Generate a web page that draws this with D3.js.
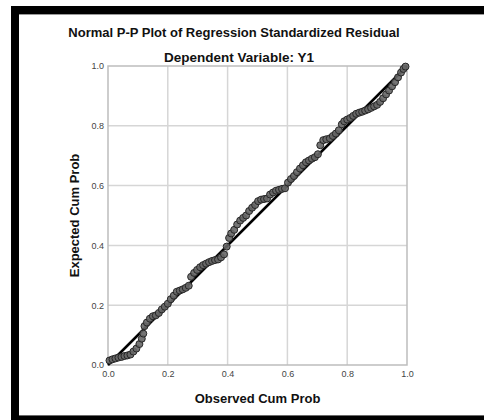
<!DOCTYPE html>
<html>
<head>
<meta charset="utf-8">
<script src="https://cdn.jsdelivr.net/npm/d3@7"></script>
<style>
  html, body { margin: 0; padding: 0; background: #fff; }
  svg { display: block; }
  text { font-family: "Liberation Sans", Arial, sans-serif; }
</style>
</head>
<body>
<script>
// ---- data ----
const titleText = "Normal P-P Plot of Regression Standardized Residual";
const subtitleText = "Dependent Variable: Y1";
const xLabel = "Observed Cum Prob";
const yLabel = "Expected Cum Prob";
const tickValues = [0, 0.2, 0.4, 0.6, 0.8, 1.0];
const tickLabels = ["0.0", "0.2", "0.4", "0.6", "0.8", "1.0"];

const observed = [
  0.005, 0.015, 0.025, 0.035, 0.045, 0.055, 0.065, 0.075, 0.085, 0.095,
  0.105, 0.113, 0.118, 0.122, 0.130, 0.140, 0.150, 0.160, 0.170, 0.180,
  0.190, 0.200, 0.210, 0.220, 0.230, 0.240, 0.250, 0.260, 0.270, 0.278,
  0.288, 0.298, 0.308, 0.318, 0.328, 0.338, 0.348, 0.358, 0.368, 0.378,
  0.388, 0.397, 0.405, 0.412, 0.422, 0.432, 0.442, 0.452, 0.462, 0.472,
  0.482, 0.492, 0.502, 0.512, 0.522, 0.532, 0.542, 0.552, 0.562, 0.572,
  0.582, 0.592, 0.602, 0.612, 0.622, 0.632, 0.642, 0.652, 0.662, 0.672,
  0.682, 0.692, 0.702, 0.710, 0.720, 0.730, 0.742, 0.752, 0.762, 0.772,
  0.782, 0.790, 0.800, 0.810, 0.820, 0.830, 0.840, 0.850, 0.860, 0.870,
  0.880, 0.890, 0.900, 0.910, 0.920, 0.930, 0.940, 0.950, 0.960, 0.970,
  0.980, 0.988, 0.995
];
const expected = [
  0.015, 0.019, 0.022, 0.025, 0.027, 0.030, 0.032, 0.035, 0.045, 0.055,
  0.070, 0.088, 0.105, 0.130, 0.142, 0.155, 0.163, 0.166, 0.174, 0.186,
  0.195, 0.205, 0.220, 0.232, 0.245, 0.249, 0.253, 0.258, 0.265, 0.295,
  0.308, 0.318, 0.327, 0.334, 0.339, 0.344, 0.348, 0.351, 0.353, 0.360,
  0.370, 0.396, 0.425, 0.440, 0.452, 0.470, 0.483, 0.492, 0.500, 0.515,
  0.526, 0.535, 0.548, 0.553, 0.555, 0.557, 0.570, 0.577, 0.583, 0.586,
  0.589, 0.591, 0.610, 0.622, 0.632, 0.645, 0.657, 0.668, 0.678, 0.684,
  0.690, 0.695, 0.705, 0.735, 0.752, 0.755, 0.758, 0.766, 0.774, 0.785,
  0.805, 0.815, 0.821, 0.826, 0.833, 0.840, 0.844, 0.847, 0.851, 0.855,
  0.860, 0.865, 0.870, 0.880, 0.892, 0.905, 0.918, 0.932, 0.946, 0.962,
  0.978, 0.990, 0.998
];
const refLine = [[0, 0], [1, 1]];

// ---- drawing ----
const W = 484, H = 420;
const svg = d3.select("body").append("svg").attr("width", W).attr("height", H);

// outer window frame (black bands with thin gray inner edge)
svg.append("rect").attr("x", 11).attr("y", 6).attr("width", W - 11).attr("height", 8).attr("fill", "#000");
svg.append("rect").attr("x", 11).attr("y", 6).attr("width", 8).attr("height", H - 6).attr("fill", "#000");
svg.append("rect").attr("x", 11).attr("y", 416).attr("width", W - 11).attr("height", 4).attr("fill", "#000");
svg.append("rect").attr("x", 19).attr("y", 14).attr("width", W - 19).attr("height", 1).attr("fill", "#9a9a9a");
svg.append("rect").attr("x", 19).attr("y", 415).attr("width", W - 19).attr("height", 1).attr("fill", "#6a6a6a");

const plot = { left: 108, top: 66, right: 407, bottom: 365 };
const x = d3.scaleLinear().domain([0, 1]).range([plot.left, plot.right]);
const y = d3.scaleLinear().domain([0, 1]).range([plot.bottom, plot.top]);

// grid
const grid = svg.append("g");
grid.selectAll("line.vx").data(tickValues.slice(1, -1)).join("line")
  .attr("x1", d => x(d)).attr("x2", d => x(d))
  .attr("y1", plot.top).attr("y2", plot.bottom)
  .attr("stroke", "#d6d6d6").attr("stroke-width", 1.5);
grid.selectAll("line.hy").data(tickValues.slice(1, -1)).join("line")
  .attr("class", "hy")
  .attr("y1", d => y(d)).attr("y2", d => y(d))
  .attr("x1", plot.left).attr("x2", plot.right)
  .attr("stroke", "#d6d6d6").attr("stroke-width", 1.5);

// frame
svg.append("rect")
  .attr("x", plot.left).attr("y", plot.top)
  .attr("width", plot.right - plot.left).attr("height", plot.bottom - plot.top)
  .attr("fill", "none").attr("stroke", "#bdbdbd").attr("stroke-width", 1.5);

// axes (labels only)
const fmt = (d) => tickLabels[tickValues.indexOf(d)];
const xAxis = svg.append("g").attr("transform", `translate(0,${plot.bottom})`)
  .call(d3.axisBottom(x).tickValues(tickValues).tickFormat(fmt).tickSize(0).tickPadding(6));
const yAxis = svg.append("g").attr("transform", `translate(${plot.left},0)`)
  .call(d3.axisLeft(y).tickValues(tickValues).tickFormat(fmt).tickSize(0).tickPadding(4));
[xAxis, yAxis].forEach(a => {
  a.select(".domain").remove();
  a.selectAll("text").attr("font-family", "'Liberation Sans', Arial, sans-serif")
    .attr("font-size", 9).attr("fill", "#444");
});

// reference line
const line = d3.line().x(d => x(d[0])).y(d => y(d[1]));
svg.append("path").datum(refLine).attr("d", line)
  .attr("stroke", "#000").attr("stroke-width", 2.5).attr("fill", "none");

// points
const pts = observed.map((o, i) => ({ o, e: expected[i] }));
svg.append("g").selectAll("circle").data(pts).join("circle")
  .attr("cx", d => x(d.o)).attr("cy", d => y(d.e)).attr("r", 3.5)
  .attr("fill", "#666").attr("fill-opacity", 0.9)
  .attr("stroke", "#262626").attr("stroke-width", 1);

// titles
svg.append("text").attr("x", 234).attr("y", 37).attr("text-anchor", "middle")
  .attr("font-size", 13).attr("font-weight", "bold").attr("fill", "#111").text(titleText);
svg.append("text").attr("x", 239).attr("y", 62).attr("text-anchor", "middle")
  .attr("font-size", 13.5).attr("font-weight", "bold").attr("fill", "#111").text(subtitleText);
svg.append("text").attr("x", (plot.left + plot.right) / 2).attr("y", 403).attr("text-anchor", "middle")
  .attr("font-size", 13).attr("font-weight", "bold").attr("fill", "#111").text(xLabel);
svg.append("text").attr("transform", `translate(79,${(plot.top + plot.bottom) / 2}) rotate(-90)`)
  .attr("text-anchor", "middle")
  .attr("font-size", 13).attr("font-weight", "bold").attr("fill", "#111").text(yLabel);
</script>
</body>
</html>
